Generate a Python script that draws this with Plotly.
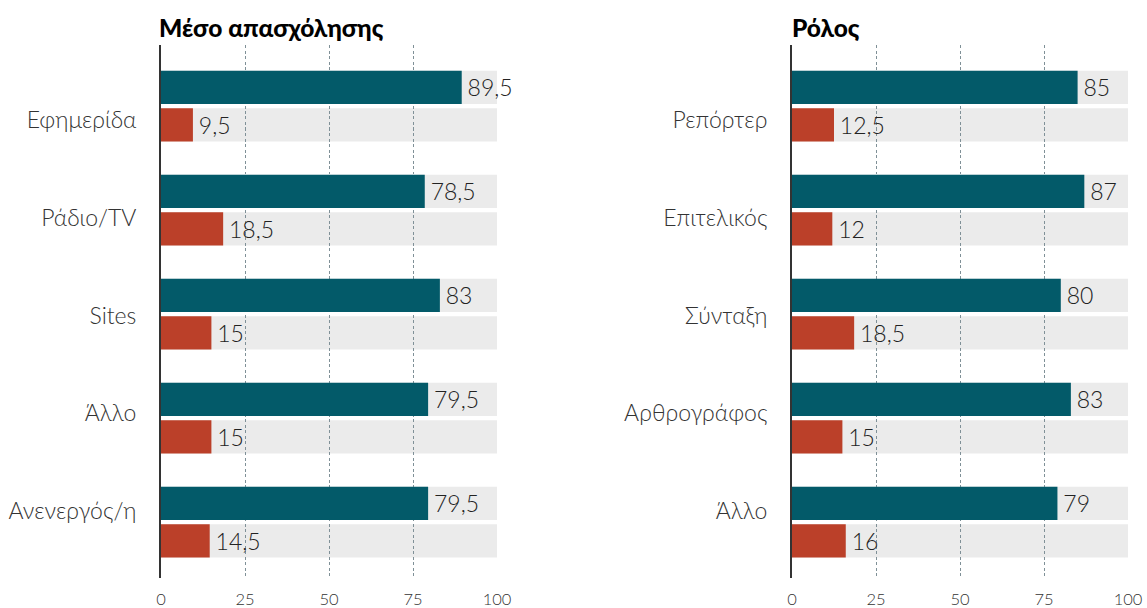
import plotly.graph_objects as go

# ---------------- data ----------------
left_title = "Μέσο απασχόλησης"
left_categories = ["Εφημερίδα", "Ράδιο/TV", "Sites", "Άλλο", "Ανενεργός/η"]
left_teal = [89.5, 78.5, 83, 79.5, 79.5]
left_red = [9.5, 18.5, 15, 15, 14.5]

right_title = "Ρόλος"
right_categories = ["Ρεπόρτερ", "Επιτελικός", "Σύνταξη", "Αρθρογράφος", "Άλλο"]
right_teal = [85, 87, 80, 83, 79]
right_red = [12.5, 12, 18.5, 15, 16]

x_ticks = [0, 25, 50, 75, 100]
full_value = 100

# ---------------- style ----------------
W, H = 1147, 608
TEAL = "#035A69"
RED = "#BB4029"
BG = "#EBEBEB"
TXT = "#222222"
FONT = "Lato"
BAR_W = 0.32
OFF_TEAL = -0.34
OFF_RED = 0.02
LABEL_SPACING = 0.94
LABEL_SHIFT = 0.135


def fmt(v):
    return "\u2009" + f"{v:g}".replace(".", ",")


fig = go.Figure()
shapes = []
panels = [
    (left_categories, left_teal, left_red, "x", "y"),
    (right_categories, right_teal, right_red, "x2", "y2"),
]
for cats, teal, red, xa, ya in panels:
    pos = list(range(len(cats)))
    for vals, col, off in ((teal, TEAL, OFF_TEAL), (red, RED, OFF_RED)):
        fig.add_trace(go.Bar(
            y=pos, x=vals, orientation="h",
            marker=dict(color=col, line=dict(width=0)),
            width=BAR_W, offset=off,
            text=[fmt(v) for v in vals], textposition="outside",
            textfont=dict(family=FONT, size=23, color=TXT, weight=300),
            cliponaxis=False, xaxis=xa, yaxis=ya, showlegend=False,
            hoverinfo="skip",
        ))
        for p in pos:
            shapes.append(dict(
                type="rect", xref=xa, yref=ya, layer="below",
                x0=0, x1=full_value, y0=p + off, y1=p + off + BAR_W,
                fillcolor=BG, line=dict(width=0),
            ))

ydom = [1 - 578 / H, 1 - 45 / H]
yrange = [4.538, -0.587]


def xaxis(domain, anchor):
    return dict(
        domain=domain, anchor=anchor, range=[0, full_value],
        tickvals=x_ticks, ticktext=[str(t) for t in x_ticks],
        showgrid=True, gridcolor="#7F9097", griddash="3px,2.5px", gridwidth=1.3,
        zeroline=False, showline=False, ticks="", automargin=False,
        ticklabelstandoff=9,
        tickfont=dict(family=FONT, size=16.5, color="#333333", weight=300),
    )


def yaxis(cats, anchor):
    n = len(cats)
    return dict(
        domain=ydom, anchor=anchor, range=yrange,
        tickvals=[i * LABEL_SPACING + LABEL_SHIFT for i in range(n)],
        ticktext=cats,
        showgrid=False, zeroline=False, showline=True, automargin=False,
        linecolor="#333333", linewidth=2, ticks="",
        ticklabelstandoff=18,
        tickfont=dict(family=FONT, size=23, color="#333333", weight=300),
    )


fig.update_layout(
    width=W, height=H,
    margin=dict(l=0, r=0, t=0, b=0, autoexpand=False),
    paper_bgcolor="white", plot_bgcolor="white",
    barmode="overlay",
    xaxis=xaxis([161 / W, 497 / W], "y"),
    yaxis=yaxis(left_categories, "x"),
    xaxis2=xaxis([792 / W, 1128 / W], "y2"),
    yaxis2=yaxis(right_categories, "x2"),
    shapes=shapes,
    annotations=[
        dict(text=left_title, xref="paper", yref="paper",
             x=157 / W, y=1 - 28 / H, xanchor="left", yanchor="middle",
             showarrow=False, font=dict(family=FONT, size=24.5, color="#000", weight=900)),
        dict(text=right_title, xref="paper", yref="paper",
             x=790 / W, y=1 - 28 / H, xanchor="left", yanchor="middle",
             showarrow=False, font=dict(family=FONT, size=24.5, color="#000", weight=900)),
    ],
)

fig.write_html(
    "out.html",
    config={"displayModeBar": False},
    post_script="document.body.style.margin='0';document.body.style.overflow='hidden';",
)
